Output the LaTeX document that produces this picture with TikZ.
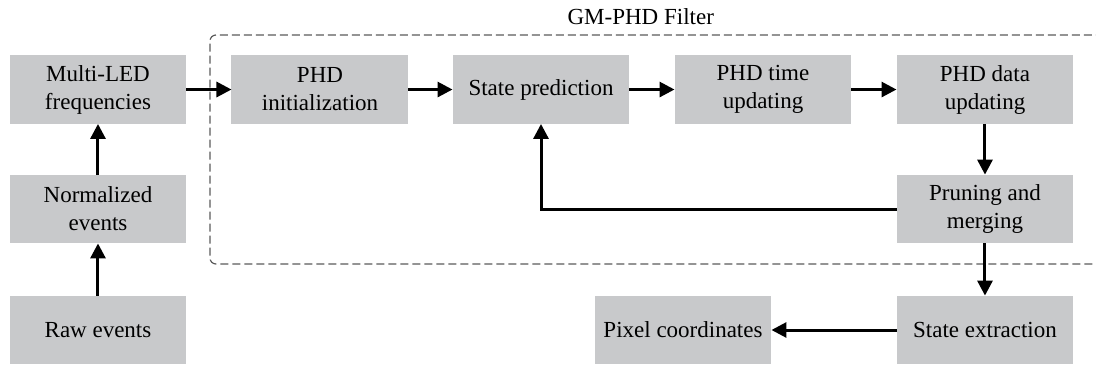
\documentclass[tikz,border=0pt]{standalone}
\usepackage{fontspec}
\setmainfont{Liberation Serif}
\usetikzlibrary{arrows.meta}
\definecolor{boxgray}{RGB}{200,201,203}
\definecolor{dashgray}{RGB}{90,90,90}
\begin{document}
\begin{tikzpicture}[scale=1,inner sep=0pt,outer sep=0pt,line width=1.5pt,
>={Triangle[length=7.5pt,width=7.5pt]},
flowblock/.style={fill=boxgray,rectangle,inner sep=2pt,minimum width=3.11cm,minimum height=1.21cm,align=center,font=\fontsize{11.5}{14}\selectfont},
filterbox/.style={draw=dashgray,line width=0.6pt,dash pattern=on 4pt off 2pt,rounded corners=3pt}]
\useasboundingbox (0,0) rectangle (19.26,6.467);
% GM-PHD filter frame, open to the right
\draw[filterbox] (19.4,5.852) -- (3.69,5.852) -- (3.69,1.828) -- (19.4,1.828);
\draw (11.26,6.17) node[font=\fontsize{11.5}{14}\selectfont] (title) {GM-PHD Filter};
% input chain
\draw (1.722,4.894) node[flowblock] (freq) {Multi-LED\\frequencies};
\draw (1.722,2.794) node[flowblock] (norm) {Normalized\\events};
\draw (1.722,0.668) node[flowblock] (raw) {Raw events};
% filter stages
\draw (5.623,4.894) node[flowblock] (init) {PHD\\initialization};
\draw (9.507,4.894) node[flowblock] (pred) {State prediction};
\draw (13.408,4.894) node[flowblock] (tupd) {PHD time\\updating};
\draw (17.309,4.894) node[flowblock] (dupd) {PHD data\\updating};
\draw (17.309,2.794) node[flowblock] (prune) {Pruning and\\merging};
% output
\draw (17.309,0.668) node[flowblock] (extr) {State extraction};
\draw (12.002,0.668) node[flowblock] (pix) {Pixel coordinates};
\draw[->] (raw) -- (norm);
\draw[->] (norm) -- (freq);
\draw[->] (freq) -- (init);
\draw[->] (init) -- (pred);
\draw[->] (pred) -- (tupd);
\draw[->] (tupd) -- (dupd);
\draw[->] (dupd) -- (prune);
\draw[->] (prune.west) -| (pred.south);
\draw[->] (prune) -- (extr);
\draw[->] (extr) -- (pix);
\end{tikzpicture}
\end{document}
